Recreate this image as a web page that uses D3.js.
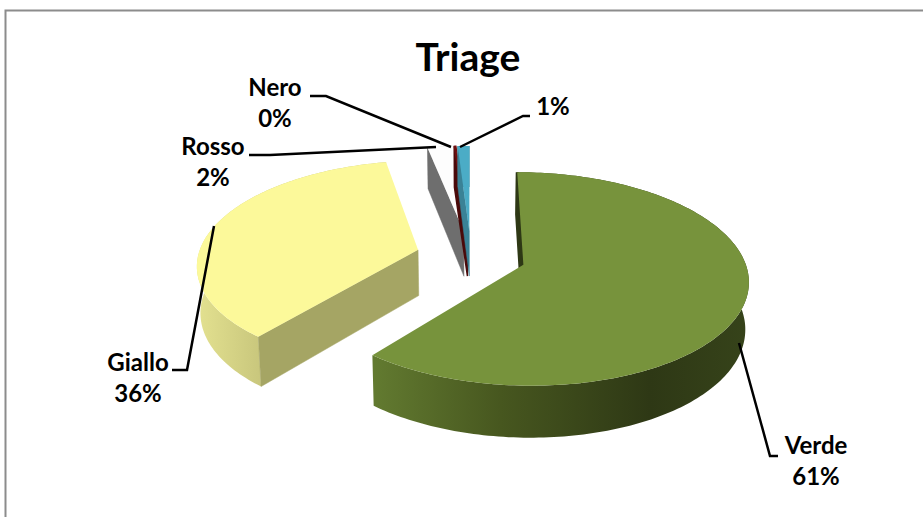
<!DOCTYPE html>
<html>
<head>
<meta charset="utf-8">
<style>
    html, body { margin: 0; padding: 0; background: #fff; }
    svg { display: block; }
    text { font-family: Lato, "Open Sans", sans-serif; font-weight: 700; fill: #000; text-anchor: middle; }
</style>
<script src="https://cdn.jsdelivr.net/npm/d3@7"></script>
</head>
<body>
<svg width="923" height="517"></svg>
<script>
    const categories = ["Verde", "Giallo", "Rosso", "Nero", "Blu"];
    const values = [61, 36, 2, 0.15, 1];
    const title = "Triage";

    const topColors = ["#77933c", "#fcf99a", "#fdfdfd", "#6e0f0f", "#4bacc6"];
    const radialColors = ["#2e3815", "#a5a564", "#6e6e6e", "#4a0a0a", "#3a8296"];
    const wallStops = [
        [[375, "#627a30"], [500, "#47571f"], [650, "#2e3815"], [748, "#36431a"]],
        [[200, "#e2e08f"], [262, "#c8c67c"]],
        [[420, "#cccccc"], [470, "#cccccc"]],
        [[450, "#4a0a0a"], [470, "#4a0a0a"]],
        [[450, "#3a8296"], [470, "#3a8296"]]
    ];

    // leader lines and label positions, one per label
    const labels = [
        { i: 0, x: 816, y: 454, line: [[739, 343], [770, 456], [778, 456]] },
        { i: 1, x: 138, y: 371, line: [[214, 226], [187, 370], [172, 370]] },
        { i: 2, x: 213, y: 155, line: [[436, 147], [270, 155], [249, 155]] },
        { i: 3, x: 275, y: 96, line: [[451, 147], [326, 96], [310, 96]] },
        { i: 4, x: 553, y: 115, line: [[460, 147], [523, 116], [530, 116]], noName: true }
    ];

    // projection of the tilted pie
    const cx = 471, cy = 256;
    const R = 220, tilt = 0.466, persp = 0.132, depth = 46, shrink = 0.013, explode = 0.25;

    const svg = d3.select("svg");
    const defs = svg.append("defs");
    const lineGen = d3.line();
    const total = d3.sum(values);
    const pct = d3.format(".0%");

    function project(angle, r, mid, low) {
        const u = explode * Math.sin(mid) + r * Math.sin(angle);
        const v = -explode * Math.cos(mid) - r * Math.cos(angle);
        const s = 1 / (1 - persp * v);
        let x = cx + R * u * s;
        let y = cy + R * tilt * v * s;
        if (low) {
            x = cx + (x - cx) * (1 - shrink);
            y = cy + (y - cy) * (1 - shrink) + depth * s;
        }
        return [x, y];
    }

    function arcPoints(a0, a1, mid, low) {
        const n = Math.max(2, Math.ceil((a1 - a0) / 0.02));
        return d3.range(n + 1).map(k => project(a0 + (a1 - a0) * k / n, 1, mid, low));
    }

    // background frame
    svg.append("path")
        .attr("d", "M5.5,517V10.5H923")
        .attr("fill", "none")
        .attr("stroke", "#8c8c8c")
        .attr("stroke-width", 2);

    const slices = d3.pie().sort(null).startAngle(0).endAngle(2 * Math.PI)(values);

    wallStops.forEach((stops, i) => {
        const g = defs.append("linearGradient")
            .attr("id", "wall" + i)
            .attr("gradientUnits", "userSpaceOnUse")
            .attr("x1", stops[0][0]).attr("x2", stops[stops.length - 1][0])
            .attr("y1", 0).attr("y2", 0);
        const x0 = stops[0][0], x1 = stops[stops.length - 1][0];
        stops.forEach(s => g.append("stop")
            .attr("offset", (s[0] - x0) / (x1 - x0))
            .attr("stop-color", s[1]));
    });

    // painter's order: far slices first
    const order = [2, 3, 4, 1, 0];
    order.forEach(i => {
        const d = slices[i];
        const mid = (d.startAngle + d.endAngle) / 2;
        const a0 = d.startAngle, a1 = d.endAngle;
        const g = svg.append("g").attr("class", "slice-" + categories[i]);

        // outer wall
        const top = arcPoints(a0, a1, mid, false);
        const low = arcPoints(a0, a1, mid, true);
        g.append("path")
            .attr("d", lineGen(top.concat(low.slice().reverse())) + "Z")
            .attr("fill", "url(#wall" + i + ")");

        // wall on the leading radial edge
        const radial = [
            project(a0, 1, mid, false), project(a0, 0, mid, false),
            project(a0, 0, mid, true), project(a0, 1, mid, true)
        ];
        g.append("path")
            .attr("d", lineGen(radial) + "Z")
            .attr("fill", radialColors[i])
            .attr("stroke", radialColors[i])
            .attr("stroke-width", i === 0 ? 3 : i === 3 ? 1.5 : 0.5);

        // top face
        const face = [project(a0, 0, mid, false)].concat(top);
        g.append("path")
            .attr("d", lineGen(face) + "Z")
            .attr("fill", topColors[i])
            .attr("stroke", i === 3 ? topColors[i] : "none")
            .attr("stroke-width", 1.2);
    });

    // title
    svg.append("text")
        .attr("x", 468).attr("y", 71)
        .attr("font-size", 39)
        .text(title);

    // leader lines and data labels
    labels.forEach(l => {
        svg.append("path")
            .attr("d", lineGen(l.line))
            .attr("fill", "none")
            .attr("stroke", "#000")
            .attr("stroke-width", 2.5);
        const share = pct(values[l.i] / total);
        if (l.noName) {
            svg.append("text").attr("x", l.x).attr("y", l.y).attr("font-size", 24).text(share);
        } else {
            svg.append("text").attr("x", l.x).attr("y", l.y).attr("font-size", 24).text(categories[l.i]);
            svg.append("text").attr("x", l.x).attr("y", l.y + 31).attr("font-size", 24).text(share);
        }
    });
</script>
</body>
</html>
